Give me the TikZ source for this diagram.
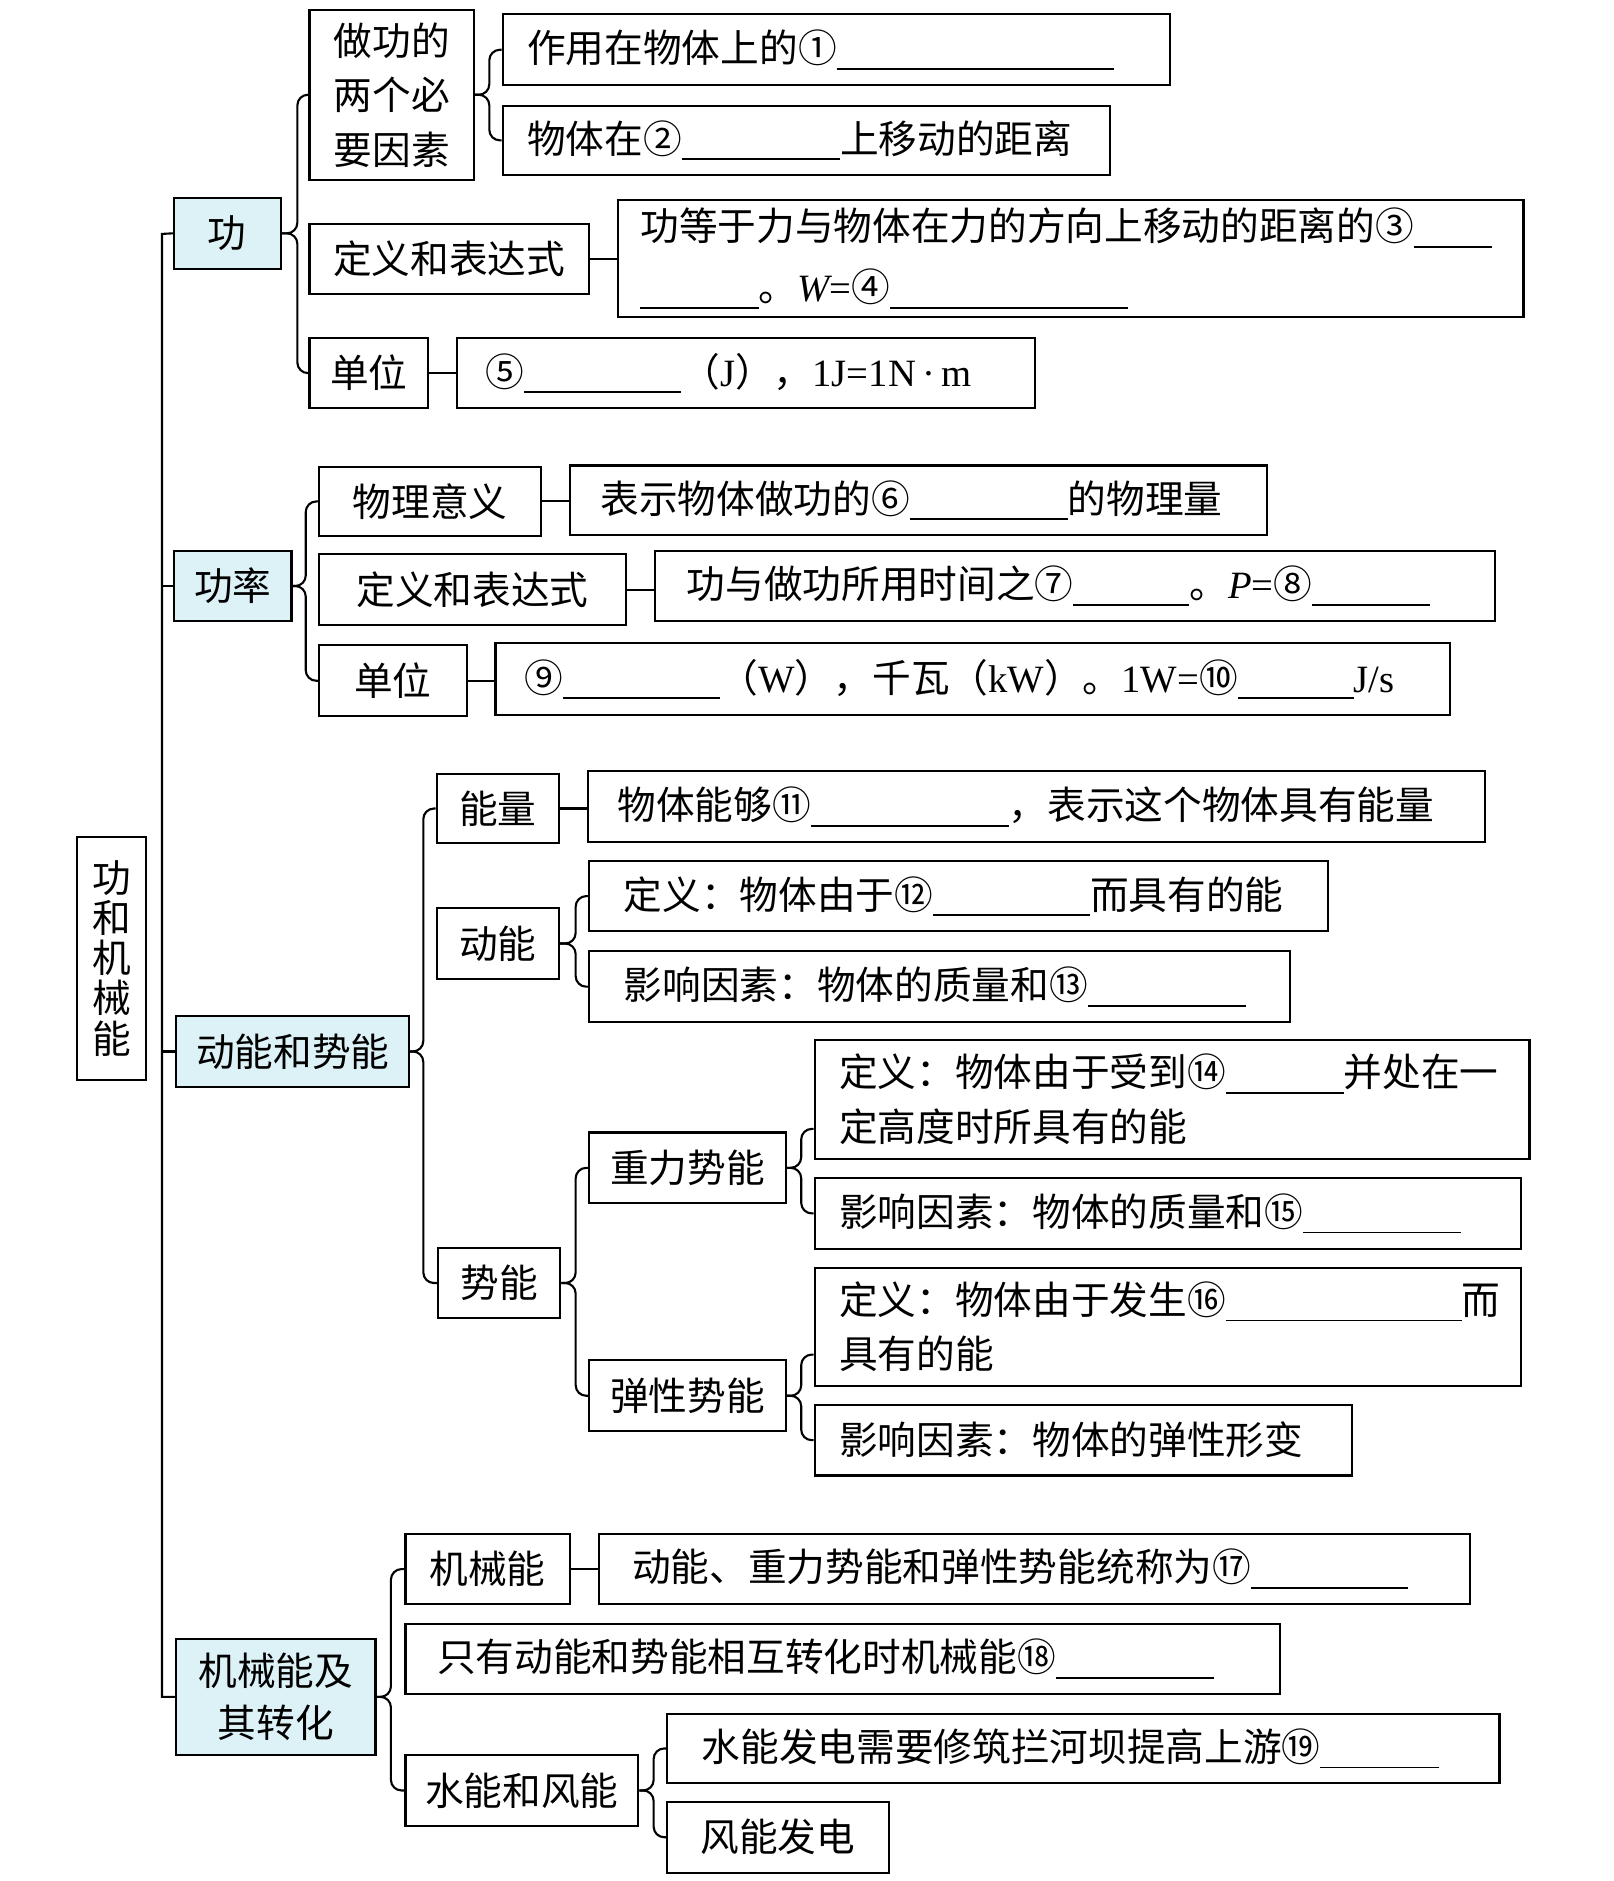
\documentclass[tikz,border=0pt]{standalone}
\usepackage{fontspec}
\setmainfont{Noto Sans CJK SC}
\newfontfamily\lat{Liberation Serif}
\usetikzlibrary{positioning,fit,calc}
\definecolor{topicblue}{RGB}{221,242,247}
\newcommand{\blank}[1]{\rule[-0.18em]{#1}{0.5pt}}

\begin{document}
\begin{tikzpicture}[x=0.012cm, y=-0.012cm, font=\fontsize{11}{15}\selectfont,
	box/.style={draw, line width=0.6pt, inner sep=0pt},
	topic/.style={box, fill=topicblue},
	boxtext/.style={label={[inner sep=0pt, align=center]center:#1}},
	txt/.style={inner sep=0pt, align=left},
	brace/.style={line width=0.6pt, rounded corners=3pt},
	link/.style={line width=0.6pt}]
	\useasboundingbox (0,0) rectangle (1345,1568);
	
	%root
	\node[box, fit={(64,698) (122,900)}, label={[inner sep=0pt, align=center, font=\fontsize{11}{11.4}\selectfont]center:功\\和\\机\\械\\能}] (root) {};
	
	%main topics
	\node[topic, fit={(145,165) (234,224)}, boxtext={功}] (gong) {};
	\node[topic, fit={(145,459) (243,518)}, boxtext={功率}] (gonglv) {};
	\node[topic, fit={(147,847) (341,906)}, boxtext={动能和势能}] (dongshi) {};
	\node[topic, fit={(147,1366) (313,1463)}, boxtext={机械能及\\其转化}] (jixie) {};
	
	%trunk
	\coordinate (trunk) at (135,195);
	\draw[link] (gong.west) -- (trunk) |- (jixie.west);
	\draw[link] (gonglv.west) -- (gonglv.west -| trunk);
	\draw[link] (dongshi.west) -- (dongshi.west -| trunk);
	
	%gong
	\node[box, fit={(258,8) (395,150)}, label={[inner sep=0pt, align=center, font=\fontsize{11}{15.5}\selectfont]center:做功的\\两个必\\要因素}] (yaosu) {};
	\node[box, fit={(258,187) (491,245)}, boxtext={定义和表达式}] (gdingyi) {};
	\node[box, fit={(258,282) (357,340)}, boxtext={单位}] (gdanwei) {};
	\node[box, fit={(419,12) (975,71)}] (yaosuA) {};
	\node[txt, right=0.25cm of yaosuA.west] (yaosuAt) {作用在物体上的①\blank{2.77cm}};
	\node[box, fit={(419,88) (925,146)}] (yaosuB) {};
	\node[txt, right=0.25cm of yaosuB.west] (yaosuBt) {物体在②\blank{1.58cm}上移动的距离};
	\node[box, fit={(515,167) (1270,264)}] (gdingyiA) {};
	\node[txt, right=0.23cm of gdingyiA.west, font=\fontsize{11}{17.4}\selectfont] (gdingyiAt) {功等于力与物体在力的方向上移动的距离的③\blank{0.78cm}\\\blank{1.18cm}。{\lat\itshape W}{\lat =}④\blank{2.38cm}};
	\node[box, fit={(381,282) (863,340)}] (gdanweiA) {};
	\node[txt, right=0.29cm of gdanweiA.west] (gdanweiAt) {⑤\blank{1.57cm}（{\lat J}），{\lat 1J=1N\,·\,m}};
	
	\draw[brace] (yaosu.west) -| ($(gong.east)+(13,0)$) -- (gong.east);
	\draw[brace] (gdanwei.west) -| ($(gong.east)+(13,0)$) -- (gong.east);
	\draw[brace] (yaosuA.west) -| ($(yaosu.east)+(12,0)$) -- (yaosu.east);
	\draw[brace] (yaosuB.west) -| ($(yaosu.east)+(12,0)$) -- (yaosu.east);
	\draw[link] (gdingyi.east) -- (gdingyi.east -| gdingyiA.west);
	\draw[link] (gdanwei.east) -- (gdanwei.east -| gdanweiA.west);
	
	%gonglv
	\node[box, fit={(266,389) (451,447)}, boxtext={物理意义}] (yiyi) {};
	\node[box, fit={(266,462) (522,521)}, boxtext={定义和表达式}] (pdingyi) {};
	\node[box, fit={(266,538) (389,597)}, boxtext={单位}] (pdanwei) {};
	\node[box, fit={(475,388) (1056,446)}] (yiyiA) {};
	\node[txt, right=0.31cm of yiyiA.west] (yiyiAt) {表示物体做功的⑥\blank{1.58cm}的物理量};
	\node[box, fit={(546,459) (1246,518)}] (pdingyiA) {};
	\node[txt, right=0.32cm of pdingyiA.west] (pdingyiAt) {功与做功所用时间之⑦\blank{1.16cm}。{\lat\itshape P}{\lat =}⑧\blank{1.18cm}};
	\node[box, fit={(413,536) (1209,596)}] (pdanweiA) {};
	\node[txt, right=0.29cm of pdanweiA.west] (pdanweiAt) {⑨\blank{1.57cm}（{\lat W}），千瓦（{\lat kW}）。{\lat 1W=}⑩\blank{1.16cm}{\lat J/s}};
	
	\draw[brace] (yiyi.west) -| ($(gonglv.east)+(11,0)$) -- (gonglv.east);
	\draw[brace] (pdanwei.west) -| ($(gonglv.east)+(11,0)$) -- (gonglv.east);
	\draw[link] (yiyi.east) -- (yiyi.east -| yiyiA.west);
	\draw[link] (pdingyi.east) -- (pdingyi.east -| pdingyiA.west);
	\draw[link] (pdanwei.east) -- (pdanwei.east -| pdanweiA.west);
	
	%dongshi
	\node[box, fit={(364,645) (466,703)}, boxtext={能量}] (nengliang) {};
	\node[box, fit={(364,757) (466,816)}, boxtext={动能}] (dongneng) {};
	\node[box, fit={(365,1040) (467,1099)}, boxtext={势能}] (shineng) {};
	\node[box, fit={(490,643) (1238,702)}] (nengliangA) {};
	\node[txt, right=0.3cm of nengliangA.west] (nengliangAt) {物体能够⑪\blank{1.98cm}，表示这个物体具有能量};
	\node[box, fit={(491,718) (1107,776)}] (dongA) {};
	\node[txt, right=0.35cm of dongA.west] (dongAt) {定义：物体由于⑫\blank{1.57cm}而具有的能};
	\node[box, fit={(491,793) (1075,852)}] (dongB) {};
	\node[txt, right=0.35cm of dongB.west] (dongBt) {影响因素：物体的质量和⑬\blank{1.58cm}};
	\node[box, fit={(491,944) (655,1003)}, boxtext={重力势能}] (zhongli) {};
	\node[box, fit={(491,1134) (655,1193)}, boxtext={弹性势能}] (tanxing) {};
	\node[box, fit={(679,867) (1275,966)}] (zhongA) {};
	\node[txt, right=0.25cm of zhongA.west, font=\fontsize{11}{15.7}\selectfont] (zhongAt) {定义：物体由于受到⑭\blank{1.18cm}并处在一\\定高度时所具有的能};
	\node[box, fit={(679,982) (1268,1041)}] (zhongB) {};
	\node[txt, right=0.25cm of zhongB.west] (zhongBt) {影响因素：物体的质量和⑮\blank{1.58cm}};
	\node[box, fit={(679,1057) (1268,1155)}] (tanA) {};
	\node[txt, right=0.25cm of tanA.west, font=\fontsize{11}{15.5}\selectfont] (tanAt) {定义：物体由于发生⑯\blank{2.36cm}而\\具有的能};
	\node[box, fit={(679,1171) (1127,1230)}] (tanB) {};
	\node[txt, right=0.25cm of tanB.west] (tanBt) {影响因素：物体的弹性形变};
	
	\draw[brace] (nengliang.west) -| ($(dongshi.east)+(11,0)$) -- (dongshi.east);
	\draw[brace] (shineng.west) -| ($(dongshi.east)+(11,0)$) -- (dongshi.east);
	\draw[link] (nengliang.east) -- (nengliang.east -| nengliangA.west);
	\draw[brace] (dongA.west) -| ($(dongneng.east)+(13,0)$) -- (dongneng.east);
	\draw[brace] (dongB.west) -| ($(dongneng.east)+(13,0)$) -- (dongneng.east);
	\draw[brace] (zhongli.west) -| ($(shineng.east)+(12,0)$) -- (shineng.east);
	\draw[brace] (tanxing.west) -| ($(shineng.east)+(12,0)$) -- (shineng.east);
	\draw[brace] ([yshift=0.31cm]zhongA.south west) -| ($(zhongli.east)+(12,0)$) -- (zhongli.east);
	\draw[brace] (zhongB.west) -| ($(zhongli.east)+(12,0)$) -- (zhongli.east);
	\draw[brace] ([yshift=0.32cm]tanA.south west) -| ($(tanxing.east)+(12,0)$) -- (tanxing.east);
	\draw[brace] (tanB.west) -| ($(tanxing.east)+(12,0)$) -- (tanxing.east);
	
	%jixie
	\node[box, fit={(338,1279) (475,1337)}, boxtext={机械能}] (jxneng) {};
	\node[box, fit={(499,1279) (1225,1337)}] (jxnengA) {};
	\node[txt, right=0.34cm of jxnengA.west] (jxnengAt) {动能、重力势能和弹性势能统称为⑰\blank{1.57cm}};
	\node[box, fit={(338,1354) (1067,1412)}] (shouheng) {};
	\node[txt, right=0.32cm of shouheng.west] (shouhengt) {只有动能和势能相互转化时机械能⑱\blank{1.58cm}};
	\node[box, fit={(338,1463) (532,1522)}, boxtext={水能和风能}] (shuifeng) {};
	\node[box, fit={(556,1429) (1250,1486)}] (shuidian) {};
	\node[txt, right=0.35cm of shuidian.west] (shuidiant) {水能发电需要修筑拦河坝提高上游⑲\blank{1.19cm}};
	\node[box, fit={(556,1502) (741,1561)}, boxtext={风能发电}] (fengdian) {};
	
	\draw[brace] (jxneng.west) -| ($(jixie.east)+(12,0)$) -- (jixie.east);
	\draw[brace] (shuifeng.west) -| ($(jixie.east)+(12,0)$) -- (jixie.east);
	\draw[link] (jxneng.east) -- (jxneng.east -| jxnengA.west);
	\draw[brace] (shuidian.west) -| ($(shuifeng.east)+(12,0)$) -- (shuifeng.east);
	\draw[brace] (fengdian.west) -| ($(shuifeng.east)+(12,0)$) -- (shuifeng.east);
\end{tikzpicture}
\end{document}
